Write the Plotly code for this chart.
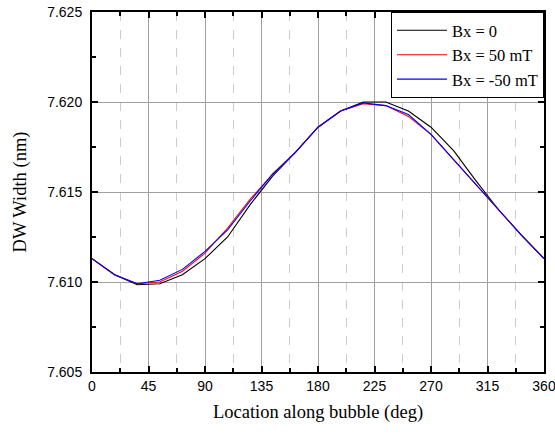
import plotly.graph_objects as go

angles = [0, 18, 36, 54, 72, 90, 108, 126, 144, 162, 180, 198, 216, 234, 252, 270, 288, 306, 324, 342, 360]
bx_0 = [7.6113, 7.6104, 7.60985, 7.6099, 7.6104, 7.6113, 7.6125, 7.6143, 7.6159, 7.6172, 7.6186, 7.6195,
        7.6200, 7.6200, 7.6195, 7.6186, 7.6173, 7.6156, 7.6140, 7.6126, 7.6113]
bx_50 = [7.6113, 7.6104, 7.6099, 7.6100, 7.6106, 7.6116, 7.6130, 7.6146, 7.6160, 7.6172, 7.6186, 7.6195,
         7.6199, 7.6198, 7.6192, 7.6182, 7.6168, 7.6154, 7.6140, 7.6126, 7.6113]
bx_m50 = [7.6113, 7.6104, 7.6099, 7.6101, 7.6107, 7.6117, 7.6129, 7.6145, 7.6160, 7.6172, 7.6186, 7.6195,
          7.61995, 7.6198, 7.6193, 7.6182, 7.6168, 7.6154, 7.6140, 7.6126, 7.6113]
series_names = ["Bx = 0", "Bx = 50 mT", "Bx = -50 mT"]
series_colors = ["#000000", "#ff0000", "#0000ff"]

SERIF = "Liberation Serif"
SANS = "Liberation Sans"

fig = go.Figure()
for name, ys, col in zip(series_names, [bx_0, bx_50, bx_m50], series_colors):
    fig.add_trace(go.Scatter(x=angles, y=ys, mode="lines", name=name,
                             line=dict(color=col, width=1.1)))

fig.update_layout(
    width=555, height=434, autosize=False,
    margin=dict(l=92, r=11, t=12, b=62, pad=0, autoexpand=False),
    paper_bgcolor="white", plot_bgcolor="white",
    font=dict(family=SANS, size=14, color="black"),
    legend=dict(x=1, y=1, xanchor="right", yanchor="top",
                bgcolor="white", bordercolor="black", borderwidth=1,
                font=dict(family=SERIF, size=16.5),
                tracegroupgap=0, itemwidth=50),
    xaxis=dict(
        range=[0, 360], tickmode="linear", tick0=0, dtick=45, automargin=False,
        ticklabeloverflow="allow",
        title=dict(text="Location along bubble (deg)",
                   font=dict(family=SERIF, size=18.5), standoff=12),
        showline=True, linecolor="black", linewidth=2, mirror="ticks",
        ticks="inside", ticklen=6, tickcolor="black", tickwidth=1.5,
        showgrid=True, gridcolor="#a0a0a0", gridwidth=1, zeroline=False,
        minor=dict(dtick=22.5, ticks="inside", ticklen=4, tickcolor="black",
                   showgrid=True, gridcolor="#cccccc", griddash="dash", gridwidth=1),
    ),
    yaxis=dict(
        range=[7.605, 7.625], tickmode="linear", tick0=7.605, dtick=0.005, tickformat=".3f",
        automargin=False, ticklabelstandoff=5, ticklabeloverflow="allow",
        title=dict(text="DW Width (nm)",
                   font=dict(family=SERIF, size=18.5), standoff=16),
        showline=True, linecolor="black", linewidth=2, mirror="ticks",
        ticks="inside", ticklen=6, tickcolor="black", tickwidth=1.5,
        showgrid=True, gridcolor="#a0a0a0", gridwidth=1, zeroline=False,
        minor=dict(dtick=0.0025, ticks="inside", ticklen=4, tickcolor="black", showgrid=False),
    ),
)

# remove the browser's default 8px page margin so the 555x434 figure fills the window
fig.write_html("out.html",
               config={"displayModeBar": False},
               post_script="document.body.style.margin='0';document.body.style.overflow='hidden';")
